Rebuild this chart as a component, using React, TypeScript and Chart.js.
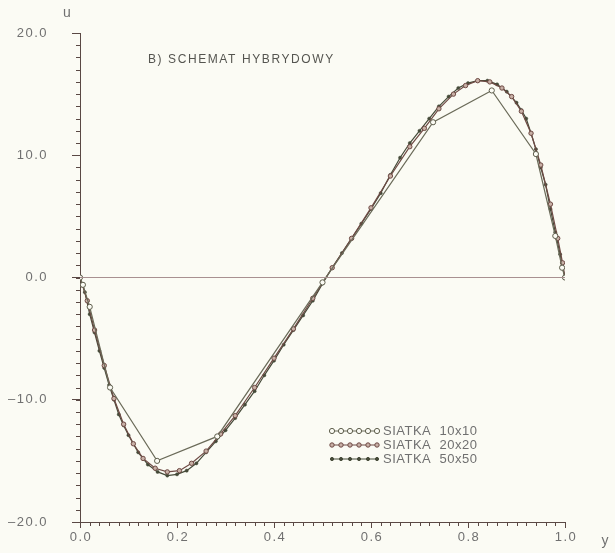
import React, { useEffect, useRef } from "react";
import { Chart, registerables } from "chart.js";

Chart.register(...registerables);

// ---- data ----
const yTicks = [-20, -10, 0, 10, 20];
const xTicks = [0, 0.2, 0.4, 0.6, 0.8, 1.0];

const mesh10Y = [0, 0.006, 0.02, 0.062, 0.159, 0.283, 0.5, 0.728, 0.849, 0.94, 0.98, 0.994, 1.0];
const mesh10U = [0, -0.6, -2.4, -9.0, -15.0, -13.0, -0.4, 12.7, 15.3, 10.1, 3.4, 0.8, 0];

const mesh20Y = [0, 0.005, 0.015, 0.03, 0.05, 0.07, 0.09, 0.11, 0.13, 0.155, 0.18, 0.205, 0.23, 0.26, 0.29, 0.32, 0.36, 0.4, 0.44, 0.48, 0.52, 0.56, 0.6, 0.64, 0.68, 0.71, 0.74, 0.77, 0.795, 0.82, 0.845, 0.87, 0.89, 0.91, 0.93, 0.95, 0.97, 0.985, 0.995, 1.0];
const mesh20U = [0, -0.6, -1.9, -4.3, -7.2, -9.9, -12.0, -13.6, -14.8, -15.6, -15.9, -15.8, -15.2, -14.2, -12.8, -11.3, -9.0, -6.6, -4.2, -1.7, 0.8, 3.2, 5.7, 8.3, 10.7, 12.2, 13.8, 15.0, 15.7, 16.1, 16.0, 15.5, 14.8, 13.6, 11.8, 9.2, 6.0, 3.2, 1.2, 0];

const mesh50Y = [0, 0.005, 0.01, 0.02, 0.03, 0.04, 0.05, 0.06, 0.07, 0.08, 0.09, 0.1, 0.12, 0.14, 0.16, 0.18, 0.2, 0.22, 0.24, 0.26, 0.28, 0.3, 0.32, 0.34, 0.36, 0.38, 0.4, 0.42, 0.44, 0.46, 0.48, 0.5, 0.52, 0.54, 0.56, 0.58, 0.6, 0.62, 0.64, 0.66, 0.68, 0.7, 0.72, 0.74, 0.76, 0.78, 0.8, 0.82, 0.84, 0.86, 0.88, 0.9, 0.91, 0.92, 0.93, 0.94, 0.95, 0.96, 0.97, 0.98, 0.99, 0.995, 1.0];
const mesh50U = [0, -0.6, -1.2, -3.0, -4.5, -6.0, -7.4, -8.8, -10.0, -11.2, -12.1, -12.9, -14.3, -15.3, -15.9, -16.2, -16.1, -15.8, -15.2, -14.3, -13.4, -12.5, -11.5, -10.4, -9.3, -8.0, -6.8, -5.5, -4.3, -3.1, -1.9, -0.5, 0.8, 2.0, 3.2, 4.4, 5.6, 6.9, 8.4, 9.8, 11.0, 12.0, 13.0, 14.0, 14.8, 15.5, 15.9, 16.1, 16.1, 15.8, 15.2, 14.3, 13.7, 13.0, 11.8, 10.5, 9.0, 7.6, 5.6, 3.7, 1.9, 0.8, 0];

const zeroLineY = [0, 1];
const zeroLineU = [0, 0];

const seriesNames = ["SIATKA  10x10", "SIATKA  20x20", "SIATKA  50x50"];
const titleText = "B) SCHEMAT HYBRYDOWY";

const toPts = (xs: number[], ys: number[]) => xs.map((x, i) => ({ x, y: ys[i] }));
const fmt = (v: number) => (v < 0 ? "\u2013" + Math.abs(v).toFixed(1) : v.toFixed(1));

const BG = "#fbfbf4";
const AXIS = "#5a4844";
const TEXT = "#707070";
const FONT = "'Liberation Sans', Arial, sans-serif";

export default function App() {
  const ref = useRef<HTMLCanvasElement | null>(null);

  useEffect(() => {
    document.body.style.margin = "0";
    document.body.style.background = BG;
    const canvas = ref.current!;

    const decor = {
      id: "decor",
      beforeDraw(chart: any) {
        const ctx = chart.ctx;
        ctx.save();
        ctx.fillStyle = BG;
        ctx.fillRect(0, 0, chart.width, chart.height);
        ctx.restore();
      },
      afterDraw(chart: any) {
        const ctx = chart.ctx;
        const xs = chart.scales.x;
        const ys = chart.scales.y;
        const area = chart.chartArea;
        ctx.save();
        ctx.strokeStyle = AXIS;
        ctx.lineWidth = 1;
        // minor ticks x
        for (let i = 0; i <= 50; i++) {
          const px = Math.round(xs.getPixelForValue(i * 0.02)) + 0.5;
          ctx.beginPath();
          ctx.moveTo(px, area.bottom);
          ctx.lineTo(px, area.bottom + 4);
          ctx.stroke();
        }
        // minor ticks y
        for (let i = -20; i <= 20; i++) {
          const py = Math.round(ys.getPixelForValue(i)) + 0.5;
          ctx.beginPath();
          ctx.moveTo(area.left, py);
          ctx.lineTo(area.left - 4, py);
          ctx.stroke();
        }
        // tick labels
        ctx.fillStyle = TEXT;
        ctx.font = `13px ${FONT}`;
        ctx.textBaseline = "middle";
        (ctx as any).letterSpacing = "1.5px";
        ctx.textAlign = "right";
        yTicks.forEach((v) => {
          ctx.fillText(fmt(v), 48, ys.getPixelForValue(v));
        });
        ctx.textAlign = "center";
        xTicks.forEach((v) => {
          ctx.fillText(fmt(v), xs.getPixelForValue(v) + 1, 537);
        });
        // axis titles
        (ctx as any).letterSpacing = "0px";
        ctx.font = `14px ${FONT}`;
        ctx.fillText("u", area.left - 13, 13);
        ctx.fillText("y", 605, 541);
        // title
        ctx.font = `12px ${FONT}`;
        ctx.textAlign = "left";
        (ctx as any).letterSpacing = "1.6px";
        ctx.fillStyle = "#555550";
        ctx.fillText(titleText, xs.getPixelForValue(0.14), ys.getPixelForValue(17.8));
        // legend
        const rows = [431, 445, 459];
        const dsIdx = [1, 2, 3];
        ctx.font = `13px ${FONT}`;
        (ctx as any).letterSpacing = "0.5px";
        rows.forEach((ry, k) => {
          const ds = chart.data.datasets[dsIdx[k]];
          ctx.strokeStyle = ds.borderColor;
          ctx.lineWidth = 1;
          ctx.beginPath();
          ctx.moveTo(332, ry);
          ctx.lineTo(377, ry);
          ctx.stroke();
          for (let m = 0; m < 6; m++) {
            const mx = 332 + m * 9;
            ctx.beginPath();
            ctx.arc(mx, ry, ds.pointRadius, 0, Math.PI * 2);
            ctx.fillStyle = ds.pointBackgroundColor;
            ctx.fill();
            ctx.strokeStyle = ds.pointBorderColor;
            ctx.stroke();
          }
          ctx.fillStyle = TEXT;
          ctx.textAlign = "left";
          ctx.fillText(seriesNames[k], 383, ry);
        });
        ctx.restore();
      },
    };

    const chart = new Chart(canvas, {
      type: "scatter",
      data: {
        datasets: [
          {
            label: "zero",
            data: toPts(zeroLineY, zeroLineU),
            showLine: true,
            borderColor: "#a89090",
            borderWidth: 1,
            pointRadius: 0,
          },
          {
            label: seriesNames[0],
            data: toPts(mesh10Y, mesh10U),
            showLine: true,
            borderColor: "#6a6a58",
            borderWidth: 1.2,
            pointRadius: 2.6,
            pointBorderWidth: 1,
            pointBackgroundColor: BG,
            pointBorderColor: "#5e5e4c",
          },
          {
            label: seriesNames[1],
            data: toPts(mesh20Y, mesh20U),
            showLine: true,
            borderColor: "#6e4a44",
            borderWidth: 1.2,
            pointRadius: 2.2,
            pointBorderWidth: 1,
            pointBackgroundColor: "#c8b0a6",
            pointBorderColor: "#6e4a44",
          },
          {
            label: seriesNames[2],
            data: toPts(mesh50Y, mesh50U),
            showLine: true,
            borderColor: "#454a38",
            borderWidth: 1.2,
            pointRadius: 1.6,
            pointBorderWidth: 0.5,
            pointBackgroundColor: "#454a38",
            pointBorderColor: "#454a38",
          },
        ],
      },
      options: {
        animation: false,
        responsive: false,
        devicePixelRatio: 1,
        layout: { padding: { top: 33, right: 50, left: 0, bottom: 0 } },
        plugins: {
          legend: { display: false },
          tooltip: { enabled: false },
          title: { display: false },
        },
        scales: {
          x: {
            type: "linear",
            min: 0,
            max: 1,
            afterBuildTicks: (s: any) => {
              s.ticks = xTicks.map((v) => ({ value: v }));
            },
            afterFit: (s: any) => {
              s.height = 31;
            },
            ticks: { display: false },
            grid: { drawOnChartArea: false, tickLength: 6, color: AXIS },
            border: { color: AXIS, width: 1 },
          },
          y: {
            type: "linear",
            min: -20,
            max: 20,
            afterBuildTicks: (s: any) => {
              s.ticks = yTicks.map((v) => ({ value: v }));
            },
            afterFit: (s: any) => {
              s.width = 80;
            },
            ticks: { display: false },
            grid: { drawOnChartArea: false, tickLength: 8, color: AXIS },
            border: { color: AXIS, width: 1 },
          },
        },
      },
      plugins: [decor],
    });

    return () => chart.destroy();
  }, []);

  return (
    <div style={{ position: "absolute", left: 0, top: 0, width: 615, height: 553, background: BG }}>
      <canvas ref={ref} width={615} height={553} style={{ width: 615, height: 553, display: "block" }} />
    </div>
  );
}
